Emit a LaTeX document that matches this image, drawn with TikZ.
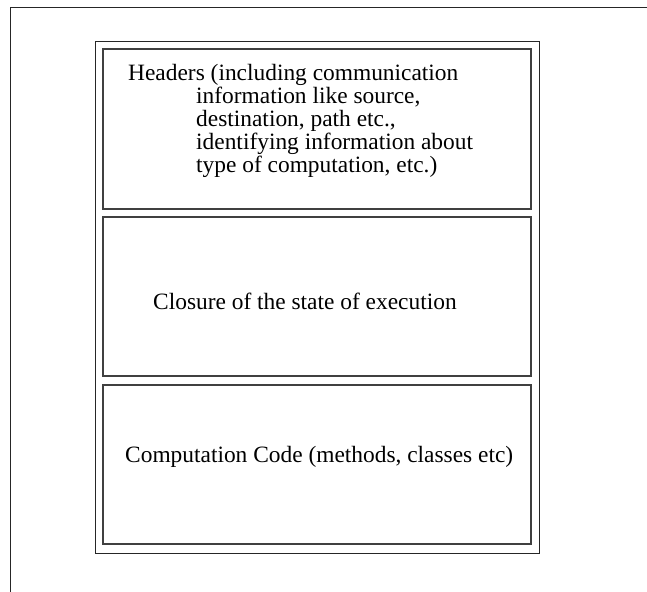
\documentclass[tikz,border=0pt]{standalone}
\usepackage{fontspec}
\setmainfont{Liberation Serif}
\begin{document}
\begin{tikzpicture}[x=1bp,y=-1bp,
  frame/.style={draw=black!85,line width=0.9bp},
  part/.style={draw=black!75,line width=1.2bp},
  label/.style={anchor=base west,inner sep=0pt,font=\fontsize{23.4bp}{23bp}\selectfont}]
\useasboundingbox (0,0) rectangle (647,592);
% page frame (left and top edges only)
\draw[frame] (10,592) -- (10,7) -- (647,7);
% outer container
\draw[frame] (95,41) rectangle (539,553);
% the three stacked parts
\draw[part] (103,49) rectangle (531,209);
\draw[part] (103,217) rectangle (531,376);
\draw[part] (103,385) rectangle (531,544);
% texts
\node[label] (h1) at (128,81) {Headers (including communication};
\node[label] (h2) at (196,104) {information like source,};
\node[label] (h3) at (196,127) {destination, path etc.,};
\node[label] (h4) at (196,150) {identifying information about};
\node[label] (h5) at (196,173) {type of computation, etc.)};
\node[label] (cl) at (153,309) {Closure of the state of execution};
\node[label] (cc) at (125,462) {Computation Code (methods, classes etc)};
\end{tikzpicture}
\end{document}
